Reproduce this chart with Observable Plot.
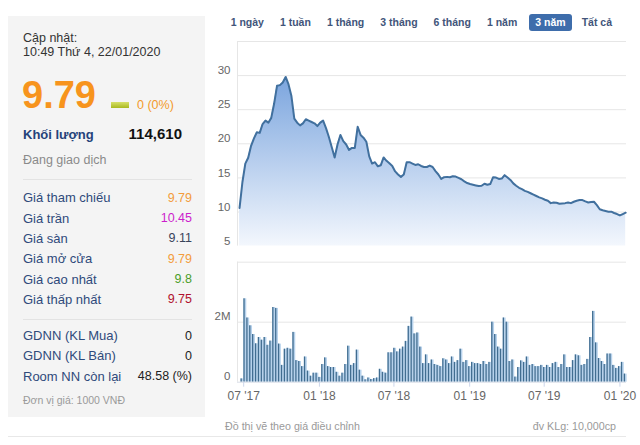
<!DOCTYPE html>
<html><head><meta charset="utf-8">
<script src="https://cdn.jsdelivr.net/npm/d3@7"></script>
<script src="https://cdn.jsdelivr.net/npm/@observablehq/plot@0.6"></script>
<style>
body{margin:0;background:#fff;font-family:Arial,"Liberation Sans",sans-serif;}
#root{position:relative;width:640px;height:445px;overflow:hidden;background:#fff;}
.t{position:absolute;white-space:nowrap;}
.chart{position:absolute;}
#btns{position:absolute;left:222.7px;top:14.3px;display:flex;}
#btns div{padding:0 8px;height:16.4px;line-height:16.4px;font-size:10.5px;font-weight:bold;color:#42557a;white-space:nowrap;}
#btns div.on{background:#3e6dab;color:#fff;border-radius:3px;padding:0 6px;margin:0 2px 0 4px;}
</style></head><body><div id="root"></div>
<script>
// ---------- data ----------
const updatedLabel = "Cập nhật:";
const updatedTime = "10:49 Thứ 4, 22/01/2020";
const lastPrice = "9.79";
const priceChange = "0 (0%)";
const volumeLabel = "Khối lượng";
const volumeValue = "114,610";
const statusText = "Đang giao dịch";
const statLabels = ["Giá tham chiếu", "Giá trần", "Giá sàn", "Giá mở cửa", "Giá cao nhất", "Giá thấp nhất"];
const statValues = ["9.79", "10.45", "9.11", "9.79", "9.8", "9.75"];
const statColors = ["#f39c3c", "#cc1fcc", "#39435a", "#f39c3c", "#4a9e2a", "#b0122e"];
const foreignLabels = ["GDNN (KL Mua)", "GDNN (KL Bán)", "Room NN còn lại"];
const foreignValues = ["0", "0", "48.58 (%)"];
const unitNote = "Đơn vị giá: 1000 VNĐ";
const ranges = ["1 ngày", "1 tuần", "1 tháng", "3 tháng", "6 tháng", "1 năm", "3 năm", "Tất cả"];
const activeRange = "3 năm";
const footLeft = "Đồ thị vẽ theo giá điều chỉnh";
const footRight = "đv KLg: 10,000cp";

// weekly adjusted close (price starts one week before volume)
const priceStart = "2017-06-21";
const prices = [
  10.6,
  14.4,17.1,17.95,19.7,20.8,21.7,21.6,22.9,23.4,23.1,
  23.8,25.9,28.5,28.6,29.0,29.8,28.7,27.0,23.7,23.1,
  22.7,23.0,23.6,23.4,23.2,23.0,22.6,23.1,23.4,22.3,
  21.0,19.5,18.0,19.9,21.3,20.4,19.9,19.1,19.4,19.4,
  22.5,21.3,20.9,20.3,18.15,17.1,17.3,16.7,16.85,18.0,
  17.5,17.15,16.75,15.95,15.5,15.15,15.5,17.3,17.3,17.1,
  16.9,17.0,16.75,16.6,16.6,16.8,16.6,16.0,15.5,14.85,
  15.1,15.15,15.1,15.25,15.2,15.0,14.8,14.5,14.25,14.1,
  14.0,13.9,13.8,13.85,14.15,14.0,14.1,15.1,15.05,14.85,
  14.9,15.4,15.05,14.7,14.2,13.85,13.55,13.35,13.1,12.95,
  12.75,12.55,12.35,12.15,12.0,11.8,11.65,11.3,11.4,11.35,
  11.2,11.25,11.3,11.4,11.3,11.5,11.65,11.75,11.75,11.55,
  11.4,11.45,11.5,11.0,10.4,10.25,10.15,10.05,10.05,9.85,
  9.7,9.5,9.7,9.9
];
// weekly volume, millions of shares
const volumeStart = "2017-06-28";
const volumes = [
  0.11,2.78,2.14,1.88,1.59,1.28,1.49,1.40,1.49,1.23,1.37,2.49,2.46,1.27,0.56,
  1.10,1.13,1.10,1.66,0.72,0.69,0.52,0.84,0.37,0.20,0.30,0.30,0.16,0.59,0.81,
  0.52,0.49,0.49,0.33,0.20,0.30,0.59,1.20,0.56,0.62,1.07,0.40,0.20,0.08,0.14,
  0.09,0.12,0.14,0.43,0.33,0.30,0.98,0.98,1.13,1.01,1.10,1.17,1.36,1.86,2.17,
  1.61,1.64,1.17,0.62,0.91,0.62,0.74,0.59,0.56,0.52,0.78,0.74,0.62,0.84,0.66,
  0.72,1.10,0.66,0.72,0.52,0.66,0.62,0.62,0.59,0.69,0.59,0.66,2.00,1.59,1.17,1.10,
  2.14,2.00,0.69,0.74,0.17,0.49,0.71,0.66,0.84,0.56,0.59,0.52,0.52,0.56,0.49,
  0.56,0.49,0.62,0.66,0.49,0.59,0.91,0.49,0.49,0.72,0.91,0.88,0.56,0.59,0.76,
  1.49,2.36,1.31,0.79,0.69,0.59,0.94,0.94,0.56,0.46,0.52,0.66,0.27
];
const xDomainDates = ["2017-06-16", "2020-01-17"];
const priceDomain = [5, 35];
const priceTicks = [5, 10, 15, 20, 25, 30];
const priceGrid = [10, 15, 20, 25, 30];
const volDomain = [0, 4];
const volTicks = [0, 2];
const xTickDates = ["2017-07-01", "2018-01-01", "2018-07-01", "2019-01-01", "2019-07-01", "2020-01-01"];

// ---------- build tables ----------
const DAY = 864e5;
const p0 = new Date(priceStart).getTime();
const priceData = prices.map((v, i) => ({date: new Date(p0 + i * 7 * DAY), price: v}));
const v0 = new Date(volumeStart).getTime();
const volData = volumes.map((v, i) => ({date: new Date(v0 + i * 7 * DAY), vol: v}));
const xDomain = xDomainDates.map(d => new Date(d));
const xTicks = xTickDates.map(d => new Date(d));

// ---------- layout ----------
const root = document.getElementById("root");
function box(x, y, w, h, bg) {
  const d = document.createElement("div");
  d.style.cssText = `position:absolute;left:${x}px;top:${y}px;width:${w}px;height:${h}px;background:${bg};`;
  root.appendChild(d); return d;
}
function txt(s, o) {
  const d = document.createElement("div");
  d.className = "t";
  d.textContent = s;
  const fs = o.size;
  d.style.fontSize = fs + "px";
  d.style.lineHeight = fs + "px";
  d.style.top = (o.base - 0.8465 * fs) + "px";
  if (o.right != null) d.style.right = (640 - o.right) + "px"; else d.style.left = o.x + "px";
  d.style.color = o.color || "#333";
  if (o.bold) d.style.fontWeight = "bold";
  root.appendChild(d); return d;
}

// left panel
box(8, 16, 197, 401, "#f4f4f4");
txt(updatedLabel, {x: 23, base: 42.5, size: 12.5, color: "#333"});
txt(updatedTime, {x: 23, base: 56.6, size: 12.5, color: "#333"});
txt(lastPrice, {x: 22, base: 108.3, size: 38, bold: true, color: "#f7941d"});
const ind = box(111, 102, 18, 6, "#b7c733");
ind.style.background = "linear-gradient(#d6e06a,#a9b91f)";
txt(priceChange, {x: 137, base: 110, size: 12.5, color: "#f39a2b"});
txt(volumeLabel, {x: 23, base: 139, size: 13, bold: true, color: "#24427a"});
txt(volumeValue, {right: 182, base: 139, size: 15, bold: true, color: "#111"});
txt(statusText, {x: 23, base: 165, size: 12.5, color: "#8a8a8a"});
box(23, 179, 169, 1, "#e3e3e3");
statLabels.forEach((l, i) => {
  const b = 202.4 + i * 20.3;
  txt(l, {x: 23, base: b, size: 13, color: "#2f4a7b"});
  txt(statValues[i], {right: 192, base: b, size: 12.5, color: statColors[i]});
});
box(23, 319, 169, 1, "#e3e3e3");
foreignLabels.forEach((l, i) => {
  const b = 340.2 + i * 20.3;
  txt(l, {x: 23, base: b, size: 13, color: "#2f4a7b"});
  txt(foreignValues[i], {right: 192, base: b, size: 12.5, color: "#222"});
});
txt(unitNote, {x: 23, base: 404, size: 10.5, color: "#9a9a9a"});
box(8, 435.5, 618, 1, "#e8e8e8");

// range buttons
const btns = document.createElement("div");
btns.id = "btns";
ranges.forEach(r => {
  const b = document.createElement("div");
  b.textContent = r;
  if (r === activeRange) b.className = "on";
  btns.appendChild(b);
});
root.appendChild(btns);

// ---------- charts ----------
const gradDefs = () => {
  const defs = d3.create("svg:defs");
  const g = defs.append("linearGradient").attr("id", "priceGrad").attr("x1", 0).attr("y1", 0).attr("x2", 0).attr("y2", 1);
  g.append("stop").attr("offset", "0%").attr("stop-color", "rgb(123,165,222)");
  g.append("stop").attr("offset", "100%").attr("stop-color", "rgb(243,247,253)");
  return defs.node();
};
const frameColor = "#e6e6e6";
const priceChart = Plot.plot({
  width: 430, height: 226,
  marginLeft: 27, marginRight: 14, marginTop: 11, marginBottom: 10.4,
  x: {type: "utc", domain: xDomain, axis: null},
  y: {domain: priceDomain, axis: null},
  style: {background: "transparent", color: "#666", fontFamily: "Arial, 'Liberation Sans', sans-serif"},
  marks: [
    gradDefs,
    Plot.gridY(priceGrid, {stroke: frameColor, strokeOpacity: 1}),
    Plot.areaY(priceData, {x: "date", y1: priceDomain[0], y2: "price", fill: "url(#priceGrad)"}),
    Plot.lineY(priceData, {x: "date", y: "price", stroke: "#41709e", strokeWidth: 2}),
    Plot.ruleX([xDomain[0]], {stroke: frameColor}),
    Plot.ruleY([priceDomain[1]], {stroke: frameColor}),
    Plot.axisY(priceTicks, {tickSize: 0, tickPadding: 7, dy: -5, fontSize: 11.5, label: null})
  ]
});
priceChart.classList.add("chart");
priceChart.style.left = "210px";
priceChart.style.top = "30px";
root.appendChild(priceChart);

const fmtX = d3.utcFormat("%m '%y");
const volChart = Plot.plot({
  width: 430, height: 160,
  marginLeft: 27, marginRight: 14, marginTop: 11.7, marginBottom: 28.3,
  x: {type: "utc", domain: xDomain, axis: null},
  y: {domain: volDomain, axis: null},
  style: {background: "transparent", color: "#666", fontFamily: "Arial, 'Liberation Sans', sans-serif"},
  marks: [
    Plot.gridY([volTicks[1]], {stroke: frameColor, strokeOpacity: 1}),
    Plot.ruleX([xDomain[0]], {stroke: frameColor}),
    Plot.ruleY([volDomain[1]], {stroke: frameColor}),
    Plot.rectY(volData, {x1: d => new Date(+d.date - 3.5 * DAY), x2: d => new Date(+d.date + 3.5 * DAY), y: "vol", fill: "#b7d2ec"}),
    Plot.rectY(volData, {x1: d => new Date(+d.date - 3.5 * DAY), x2: d => new Date(+d.date + 3.5 * DAY), y: "vol", fill: "#416d90", insetRight: 1.6}),
    Plot.ruleY([0], {stroke: "#d8dde6"}),
    Plot.axisX(xTicks, {tickSize: 5, tickPadding: 4, tickFormat: fmtX, fontSize: 12, stroke: "#ccd6eb", label: null}),
    Plot.axisY(volTicks, {tickSize: 0, tickPadding: 7, dy: -6, fontSize: 11.5, label: null, tickFormat: d => d ? d + "M" : "0"})
  ]
});
volChart.classList.add("chart");
volChart.style.left = "210px";
volChart.style.top = "250px";
root.appendChild(volChart);

txt(footLeft, {x: 225, base: 430.5, size: 10.7, color: "#9a9a9a"});
txt(footRight, {right: 616, base: 430.5, size: 10.7, color: "#9a9a9a"});
</script></body></html>
